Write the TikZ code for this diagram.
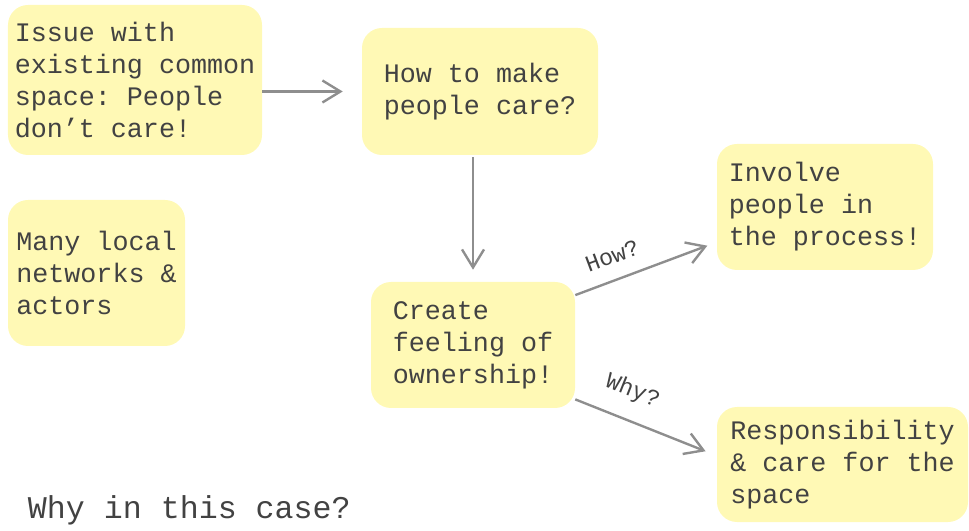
\documentclass[tikz,border=0pt]{standalone}
\usepackage{fontspec}
\setmonofont{Liberation Mono}
\usetikzlibrary{arrows.meta,calc}
\definecolor{note}{HTML}{FFF9B5}
\definecolor{ink}{HTML}{424242}
\definecolor{wire}{HTML}{8E8E8E}

\begin{document}
\begin{tikzpicture}[
  font=\fontsize{19}{22.8}\ttfamily,
  every node/.append style={text=ink},
  sticky/.style={fill=note, rounded corners=0.5cm, align=left, inner sep=0pt},
  link/.style={draw=wire, line width=1.7pt, -{Straight Barb[length=4.5mm,width=5.5mm]}},
  tag/.style={font=\fontsize{16.5}{20}\ttfamily},
]
\useasboundingbox (0,0) rectangle (24.225,13.25);
% --- left column: the starting point ---
\node[sticky, minimum width=6.35cm, minimum height=3.75cm] (issue) at (3.375,11.25)
  {Issue with\\existing common\\space: People\\don’t care!};
\node[sticky, minimum width=4.425cm, minimum height=3.65cm] (actors) at (2.4125,6.425)
  {Many local\\networks \&\\actors};
% --- middle column ---
\node[sticky, minimum width=5.9cm, minimum height=3.175cm] (ask) at (12.0,10.9625)
  {How to make\\people care?};
\node[sticky, minimum width=5.1cm, minimum height=3.15cm] (own) at (11.825,4.625)
  {Create\\feeling of\\ownership!};
% --- right column: how and why ---
\node[sticky, minimum width=5.4cm, minimum height=3.15cm] (involve) at (20.625,8.075)
  {Involve\\people in\\the process!};
\node[sticky, minimum width=6.275cm, minimum height=2.875cm] (care) at (21.0625,1.6375)
  {Responsibility\\\& care for the\\space};
% --- connectors ---
\draw[link, shorten >=0.475cm] (issue.east |- ask.west) -- (ask.west);
\draw[link, shorten <=0.05cm, shorten >=0.3cm] (ask.south -| own.north) -- (own.north);
\draw[link, shorten >=0.25cm] (own.26) -- node[tag, sloped, above=0.25cm, pos=.32] {How?} (involve.198);
\draw[link, shorten >=0.3cm] (own.332) -- node[tag, sloped, above=0.3cm, pos=.33] {Why?} (care.176);
% question at the bottom
\node[font=\fontsize{22.5}{28}\ttfamily, anchor=base west] (why) at (0.575,0.3)
  {Why in this case?};
\end{tikzpicture}
\end{document}
